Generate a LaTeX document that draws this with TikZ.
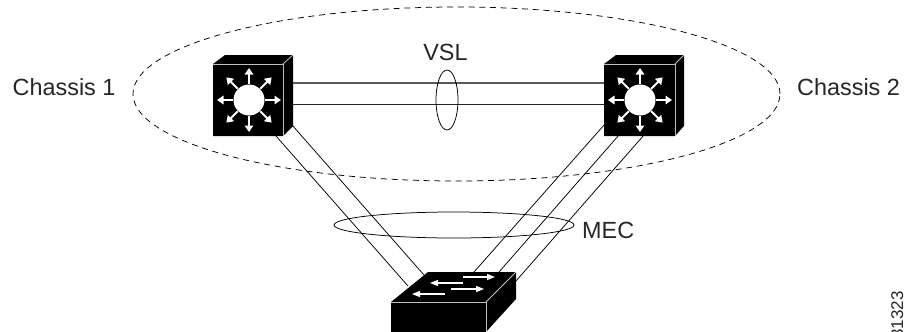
\documentclass[tikz,border=0pt]{standalone}
\usepackage{fontspec}
\setmainfont{Liberation Sans}
\usetikzlibrary{shapes.geometric,arrows.meta,calc}
\tikzset{
  x=1pt,y=-1pt,
  linkline/.style={draw=black,line width=0.75pt},
  vsltop/.style={draw=black!65,line width=1.3pt},
  vslbot/.style={draw=black!85,line width=1pt},
  lbl/.style={font=\fontsize{23.4}{25}\selectfont,inner sep=0pt,text=black!85},
  ring/.style={draw=black,line width=0.75pt,shape=ellipse,inner sep=0pt,fill=none},
  dev/.style={fill=black,draw=none},
  edgewhite/.style={draw=black!25,line width=0.8pt},
  whitearrow/.style={draw=white,line width=2pt,-{Triangle[width=8.5pt,length=6.5pt]}},
  thinarrow/.style={draw=white,line width=1.3pt,-{Triangle[width=6pt,length=8pt]}},
  hub/.style={shape=circle,fill=white,draw=none,minimum size=31pt,inner sep=0pt},
  face/.style={shape=rectangle,fill=black,draw=none,inner sep=0pt,minimum width=70pt,minimum height=72pt},
  baseface/.style={shape=rectangle,fill=black,draw=none,inner sep=0pt,minimum width=95pt,minimum height=30pt},
}
\begin{document}
\begin{tikzpicture}
\useasboundingbox (0,0) rectangle (905,332);
\fill[white] (0,0) rectangle (905,332);

% device anchors
\node[face] (sw1) at (248,100) {};
\node[face] (sw2) at (639.5,100) {};
\node[baseface] (acc) at (438.5,317) {};
\coordinate (l1a) at (276,136);  \coordinate (l1b) at (408,286);
\coordinate (l2a) at (292,125);  \coordinate (l2b) at (424,275);
\coordinate (r1a) at (605,124);  \coordinate (r1b) at (474,272);
\coordinate (r2a) at (619,135);  \coordinate (r2b) at (499,272);
\coordinate (r3a) at (644,135);  \coordinate (r3b) at (516,281);

% links
\draw[vsltop] (sw1.east |- 0,83) -- (sw2.west |- 0,83);
\draw[vslbot] (sw1.east |- 0,104) -- (sw2.west |- 0,104);
\draw[linkline] (l1a) -- (l1b);
\draw[linkline] (l2a) -- (l2b);
\draw[linkline] (r1a) -- (r1b);
\draw[linkline] (r2a) -- (r2b);
\draw[linkline] (r3a) -- (r3b);

% rings
\node[ring,dash pattern=on 6pt off 4.7pt,minimum width=647pt,minimum height=174pt] (chassisring) at (456.5,94) {};
\node[ring,minimum width=22pt,minimum height=60pt] (vslring) at (447,100) {};
\node[ring,minimum width=240pt,minimum height=26pt] (mecring) at (454,225) {};

% switch 1
\fill[dev] (213,64) -- (225,55) -- (293,55) -- (293,126) -- (283,136) -- (213,136) -- cycle;
\draw[edgewhite] (213,64) -- (283,64) -- (283,136);
\draw[edgewhite] (283,64) -- (293,55);
\node[hub] (hub1) at (249,100) {};
\foreach \a in {0,45,...,315}{
  \draw[whitearrow] ($(hub1)+(\a:16)$) -- ($(hub1)+(\a:32)$);
}
% switch 2
\fill[dev] (604,64) -- (616,55) -- (684,55) -- (684,126) -- (675,136) -- (604,136) -- cycle;
\draw[edgewhite] (604,64) -- (675,64) -- (675,136);
\draw[edgewhite] (675,64) -- (684,55);
\node[hub] (hub2) at (640,100) {};
\foreach \a in {0,45,...,315}{
  \draw[whitearrow] ($(hub2)+(\a:16)$) -- ($(hub2)+(\a:32)$);
}
% access switch
\fill[dev] (391,302) -- (428,272) -- (516,272) -- (516,299) -- (486,332) -- (391,332) -- cycle;
\draw[edgewhite] (391,302) -- (486,302) -- (486,332);
\draw[edgewhite] (486,302) -- (516,272);
\draw[thinarrow] (463,277) -- (495,277);
\draw[thinarrow] (463,283) -- (430,283);
\draw[thinarrow] (451,289) -- (484,289);
\draw[thinarrow] (445,294) -- (412,294);

% labels
\node[lbl,anchor=base west] (c1) at (12.5,95) {Chassis 1};
\node[lbl,anchor=base west] (c2) at (797,95) {Chassis 2};
\node[lbl,anchor=base] (vsl) at (445.5,60) {VSL};
\node[lbl,anchor=base west] (mec) at (582,238) {MEC};
\node[rotate=90,anchor=base west,inner sep=0pt,font=\fontsize{17}{18}\selectfont,text=black!85] (fig) at (903,339) {31323};
\end{tikzpicture}
\end{document}
